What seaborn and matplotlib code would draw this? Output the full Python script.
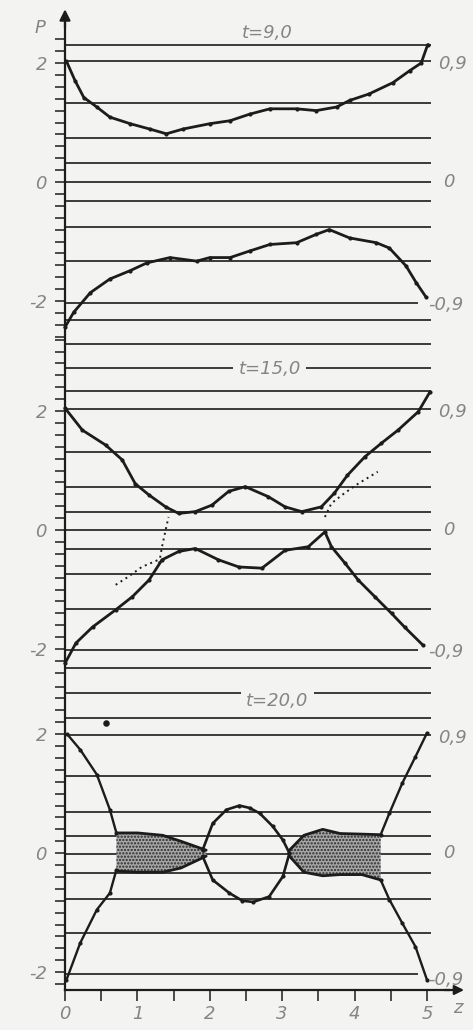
import numpy as np
import pandas as pd
import matplotlib
matplotlib.use('Agg')
import matplotlib.pyplot as plt
import seaborn as sns

# ------------------------------------------------------------------ data
PANEL_TITLES = ['t=9,0', 't=15,0', 't=20,0']
LEFT_TICK_VALUES = [2.0, 0.0, -2.0]
LEFT_TICK_LABELS = ['2', '0', '-2']
RIGHT_LABELS = ['0,9', '0', '-0,9']
X_TICKS = [0, 1, 2, 3, 4, 5]
X_TICK_LABELS = ['0', '1', '2', '3', '4', '5']
AXIS_LABEL_Y = 'P'
AXIS_LABEL_X = 'z'

# horizontal reference lines (P levels) for each panel
H_LEVELS_1 = [2.30, 2.03, 1.32, 0.74, 0.32, 0.0, -0.32, -0.76, -1.33, -2.03, -2.32]
H_LEVELS_2 = [3.12, 2.72, 2.33, 2.04, 1.31, 0.73, 0.31, 0.0, -0.32, -0.74, -1.32, -2.02, -2.32]
H_LEVELS_3 = [2.69, 2.27, 1.98, 1.29, 0.70, 0.28, -0.02, -0.34, -0.77, -1.34, -2.03]

# ---- t = 9.0
p1_up_z = [0.02, 0.14, 0.26, 0.44, 0.62, 0.90, 1.17, 1.40, 1.63, 2.00, 2.28, 2.55, 2.83,
           3.20, 3.47, 3.75, 3.93, 4.20, 4.53, 4.76, 4.92, 5.01]
p1_up_P = [2.03, 1.70, 1.42, 1.26, 1.09, 0.98, 0.89, 0.81, 0.89, 0.98, 1.03, 1.14, 1.23,
           1.23, 1.20, 1.26, 1.37, 1.48, 1.67, 1.87, 2.00, 2.31]
p1_lo_z = [0.00, 0.12, 0.35, 0.62, 0.90, 1.13, 1.45, 1.82, 2.00, 2.28, 2.55, 2.83, 3.20,
           3.47, 3.65, 3.93, 4.30, 4.48, 4.71, 4.85, 4.99]
p1_lo_P = [-2.44, -2.19, -1.86, -1.63, -1.49, -1.36, -1.27, -1.33, -1.27, -1.27, -1.16, -1.05,
           -1.02, -0.88, -0.80, -0.94, -1.02, -1.11, -1.41, -1.69, -1.94]

# ---- t = 15.0
p2_a_z = [0.00, 0.24, 0.56, 0.79, 0.97, 1.16, 1.39, 1.57, 1.80, 2.03, 2.26, 2.49, 2.81, 3.04,
          3.27, 3.54, 3.72, 3.90, 4.14, 4.37, 4.60, 4.88, 5.04]
p2_a_P = [2.05, 1.68, 1.43, 1.18, 0.78, 0.59, 0.39, 0.28, 0.31, 0.42, 0.65, 0.73, 0.56, 0.39,
          0.31, 0.39, 0.62, 0.92, 1.23, 1.46, 1.68, 1.99, 2.32]
p2_b_z = [0.00, 0.15, 0.38, 0.70, 0.93, 1.16, 1.34, 1.57, 1.80, 2.12, 2.40, 2.72, 3.04, 3.36,
          3.59, 3.68, 3.87, 4.05, 4.28, 4.51, 4.69, 4.94]
p2_b_P = [-2.24, -1.90, -1.63, -1.34, -1.12, -0.84, -0.50, -0.36, -0.31, -0.50, -0.62, -0.64,
          -0.34, -0.28, -0.03, -0.28, -0.56, -0.84, -1.12, -1.40, -1.63, -1.93]
p2_cross_z = [1.30, 1.34, 1.39, 1.43]
p2_cross_P = [-0.56, -0.28, 0.00, 0.22]
p2_sparse_l_z = [0.70, 0.88, 1.06, 1.29]
p2_sparse_l_P = [-0.92, -0.78, -0.62, -0.50]
p2_sparse_r_z = [3.59, 3.68, 3.86, 4.05, 4.32]
p2_sparse_r_P = [0.22, 0.45, 0.62, 0.78, 0.98]

# ---- t = 20.0
p3_ul_z = [0.03, 0.21, 0.44, 0.62, 0.71]
p3_ul_P = [2.00, 1.74, 1.32, 0.73, 0.34]
p3_ll_z = [0.02, 0.21, 0.44, 0.62, 0.71]
p3_ll_P = [-2.13, -1.51, -0.95, -0.67, -0.28]
p3_vu_z = [1.90, 2.04, 2.23, 2.41, 2.55, 2.69, 2.87, 3.01, 3.10]
p3_vu_P = [0.05, 0.50, 0.73, 0.80, 0.76, 0.67, 0.45, 0.22, 0.00]
p3_vl_z = [1.90, 2.04, 2.27, 2.45, 2.60, 2.82, 3.01, 3.10]
p3_vl_P = [-0.05, -0.45, -0.67, -0.80, -0.82, -0.73, -0.39, 0.00]
p3_ur_z = [4.36, 4.48, 4.66, 4.84, 5.00]
p3_ur_P = [0.31, 0.67, 1.18, 1.62, 2.02]
p3_lr_z = [4.36, 4.48, 4.66, 4.84, 5.00]
p3_lr_P = [-0.45, -0.78, -1.18, -1.57, -2.13]
p3_band_l_z = [0.71, 1.00, 1.35, 1.60, 1.95]
p3_band_l_up = [0.34, 0.34, 0.30, 0.20, 0.05]
p3_band_l_lo = [-0.30, -0.32, -0.32, -0.25, -0.05]
p3_band_r_z = [3.10, 3.30, 3.56, 3.80, 4.10, 4.36]
p3_band_r_up = [0.05, 0.30, 0.40, 0.33, 0.32, 0.31]
p3_band_r_lo = [-0.05, -0.32, -0.38, -0.36, -0.36, -0.45]
p3_blob_z = [0.57]
p3_blob_P = [2.18]

# ------------------------------------------------------------------ layout / style
OFFSETS = [0.0, -5.85, -11.28]
TICK_RANGES = [(-2.6, 2.4), (-2.4, 3.2), (-2.2, 2.8)]
AXIS_BOTTOM = -13.58
BG = '#f3f3f1'
INK = '#1c1c1c'
TXT = '#858585'

sns.set_theme(style='white')
plt.rcParams['font.family'] = ['DejaVu Sans']
plt.rcParams['hatch.linewidth'] = 1.1

fig = plt.figure(figsize=(4.73, 10.30), dpi=100, facecolor=BG)
ax = fig.add_axes([0, 0, 1, 1])
ax.set_facecolor(BG)
ax.set_xlim(-65 / 72.4, (473 - 65) / 72.4)
ax.set_ylim(-(1030 - 182) / 59.5, 182 / 59.5)

# horizontal lines
for off, levels in zip(OFFSETS, [H_LEVELS_1, H_LEVELS_2, H_LEVELS_3]):
    for lv in levels:
        xmax = 4.88 if abs(lv + 2.02) < 0.05 else 5.05
        ax.hlines(lv + off, 0, xmax, color=INK, lw=1.2, zorder=1)


def curve(z, P, off, lw=2.0, ms=3.0):
    df = pd.DataFrame({'z': z, 'P': np.asarray(P, dtype=float) + off})
    sns.lineplot(data=df, x='z', y='P', sort=False, estimator=None, color=INK,
                 lw=lw, marker='o', markersize=ms, markeredgewidth=0, ax=ax,
                 zorder=3)


def sparse(z, P, off):
    df = pd.DataFrame({'z': z, 'P': np.asarray(P, dtype=float) + off})
    sns.lineplot(data=df, x='z', y='P', sort=False, estimator=None, color=INK,
                 lw=1.4, linestyle=(0, (1, 2)), ax=ax, zorder=3)


def band(z, up, lo, off):
    up = np.asarray(up, dtype=float) + off
    lo = np.asarray(lo, dtype=float) + off
    ax.fill_between(z, up, lo, facecolor='#a8a8a8', edgecolor='#2a2a2a',
                    hatch='.....', lw=0, zorder=2)
    for edge in (up, lo):
        sns.lineplot(x=z, y=edge, sort=False, estimator=None, color=INK, lw=2.0,
                     ax=ax, zorder=3)


o1, o2, o3 = OFFSETS
curve(p1_up_z, p1_up_P, o1)
curve(p1_lo_z, p1_lo_P, o1)

curve(p2_a_z, p2_a_P, o2)
curve(p2_b_z, p2_b_P, o2)
sparse(p2_cross_z, p2_cross_P, o2)
sparse(p2_sparse_l_z, p2_sparse_l_P, o2)
sparse(p2_sparse_r_z, p2_sparse_r_P, o2)

curve(p3_ul_z, p3_ul_P, o3, lw=1.7)
curve(p3_ll_z, p3_ll_P, o3, lw=1.7)
curve(p3_vu_z, p3_vu_P, o3, lw=1.9)
curve(p3_vl_z, p3_vl_P, o3, lw=1.9)
curve(p3_ur_z, p3_ur_P, o3, lw=1.7)
curve(p3_lr_z, p3_lr_P, o3, lw=1.7)
band(p3_band_l_z, p3_band_l_up, p3_band_l_lo, o3)
band(p3_band_r_z, p3_band_r_up, p3_band_r_lo, o3)
sns.scatterplot(x=p3_blob_z, y=np.asarray(p3_blob_P) + o3, color=INK, s=22,
                linewidth=0, ax=ax, zorder=3)

# remove automatic axis labels from seaborn
ax.set_xlabel('')
ax.set_ylabel('')

# axes spines / arrows
for s in ['top', 'right']:
    ax.spines[s].set_visible(False)
ax.spines['left'].set_position(('data', 0))
ax.spines['left'].set_bounds(AXIS_BOTTOM, 2.7)
ax.spines['bottom'].set_position(('data', AXIS_BOTTOM))
ax.spines['bottom'].set_bounds(0, 5.3)
for s in ['left', 'bottom']:
    ax.spines[s].set_color(INK)
    ax.spines[s].set_linewidth(1.6)
    ax.spines[s].set_zorder(4)
ax.annotate('', xy=(0, 2.95), xytext=(0, 2.55),
            arrowprops=dict(arrowstyle='-|>', color=INK, lw=1.6, mutation_scale=16))
ax.annotate('', xy=(5.55, AXIS_BOTTOM), xytext=(5.2, AXIS_BOTTOM),
            arrowprops=dict(arrowstyle='-|>', color=INK, lw=1.6, mutation_scale=14))

# y ticks
major_y, major_lbl, minor_y = [], [], []
for off, (lo, hi) in zip(OFFSETS, TICK_RANGES):
    for v, l in zip(LEFT_TICK_VALUES, LEFT_TICK_LABELS):
        major_y.append(v + off)
        major_lbl.append(l)
    for v in np.arange(lo, hi + 1e-9, 0.2):
        v = round(v, 2)
        if v not in LEFT_TICK_VALUES:
            minor_y.append(v + off)
ax.set_yticks(major_y, major_lbl)
ax.set_yticks(minor_y, minor=True)
ax.set_xticks(X_TICKS, X_TICK_LABELS)
ax.set_xticks([0.5, 1.5, 2.5, 3.5, 4.5], minor=True)
ax.tick_params(axis='y', which='both', direction='out', length=7, width=1.1,
               color=INK, left=True, labelleft=True, pad=6, labelsize=13,
               labelcolor=TXT)
ax.tick_params(axis='x', which='both', direction='out', length=8, width=1.1,
               color=INK, bottom=True, labelbottom=True, pad=3, labelsize=13,
               labelcolor=TXT)
for lbl in ax.get_yticklabels() + ax.get_xticklabels():
    lbl.set_style('italic')
ax.grid(False)

# texts
tkw = dict(color=TXT, fontsize=13, style='italic', zorder=5)
ax.text(-0.35, 2.59, AXIS_LABEL_Y, ha='center', va='center', **tkw)
ax.text(5.43, AXIS_BOTTOM - 0.3, AXIS_LABEL_X, ha='center', va='center', **tkw)

title_pos = [(2.79, 2.50), (2.83, 2.70), (2.93, 2.55)]
title_mask = [False, True, True]
for off, title, (tz, tp), mask in zip(OFFSETS, PANEL_TITLES, title_pos, title_mask):
    kw = dict(bbox=dict(boxstyle='square,pad=0.3', fc=BG, ec='none')) if mask else {}
    ax.text(tz, tp + off, title, ha='center', va='center', **kw, **tkw)

right_P = [(1.98, 0.0, -2.07), (1.98, 0.0, -2.05), (1.94, 0.0, -2.13)]
for off, ps in zip(OFFSETS, right_P):
    ax.text(5.15, ps[0] + off, RIGHT_LABELS[0], ha='left', va='center', **tkw)
    ax.text(5.30, ps[1] + off, RIGHT_LABELS[1], ha='center', va='center', **tkw)
    ax.text(5.02, ps[2] + off, RIGHT_LABELS[2], ha='left', va='center', **tkw)

fig.savefig('out.png', dpi=100, facecolor=BG)
